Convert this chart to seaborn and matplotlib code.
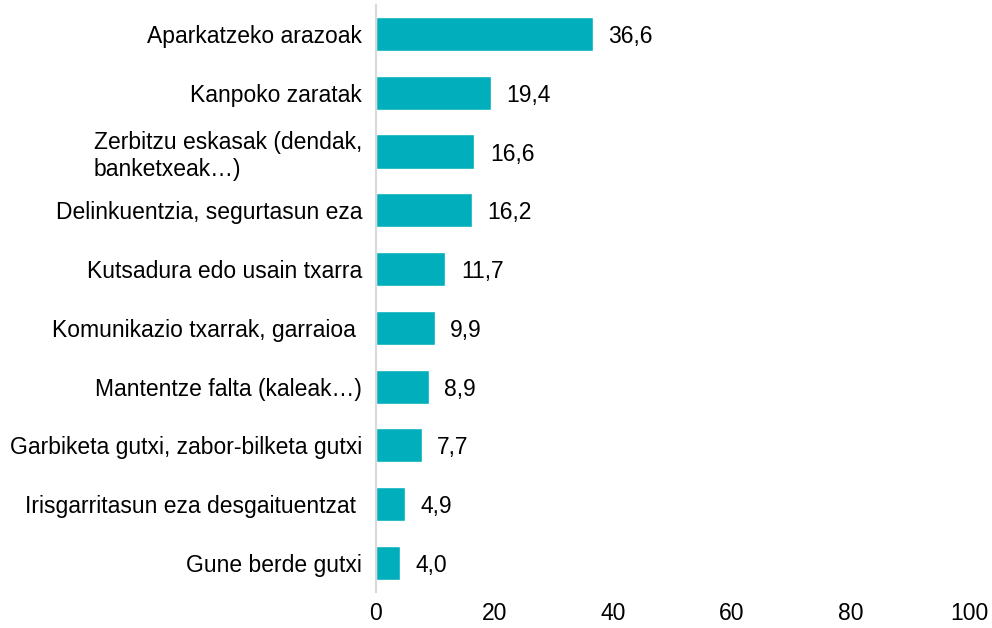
import matplotlib
matplotlib.use("Agg")
import matplotlib.pyplot as plt
import seaborn as sns
import pandas as pd

# data
categories = [
    "Aparkatzeko arazoak",
    "Kanpoko zaratak",
    "Zerbitzu eskasak (dendak,\nbanketxeak…)",
    "Delinkuentzia, segurtasun eza",
    "Kutsadura edo usain txarra",
    "Komunikazio txarrak, garraioa ",
    "Mantentze falta (kaleak…)",
    "Garbiketa gutxi, zabor-bilketa gutxi",
    "Irisgarritasun eza desgaituentzat ",
    "Gune berde gutxi",
]
values = [36.6, 19.4, 16.6, 16.2, 11.7, 9.9, 8.9, 7.7, 4.9, 4.0]
xticks = [0, 20, 40, 60, 80, 100]

df = pd.DataFrame({"cat": categories, "val": values})

sns.set_style("white")
plt.rcParams["font.family"] = ["Liberation Sans", "DejaVu Sans"]
plt.rcParams["text.color"] = "black"
plt.rcParams["xtick.color"] = "black"
plt.rcParams["ytick.color"] = "black"

FS = 16.5

fig = plt.figure(figsize=(9.92, 6.28), dpi=100)
ax = fig.add_axes([0.379, 0.0567, 0.598, 0.936])

sns.barplot(data=df, x="val", y="cat", color="#00AFBB", saturation=1,
            width=0.58, ax=ax)

for i, v in enumerate(values):
    ax.text(v + 2.6, i, f"{v:.1f}".replace(".", ","), va="center_baseline",
            ha="left", fontsize=FS, color="black")

ax.set_xlim(0, 100)
ax.set_ylim(9.5, -0.5)
ax.set_xticks(xticks)
ax.set_xticklabels([str(t) for t in xticks], fontsize=FS)
ax.tick_params(axis="x", length=0, pad=7)
ax.tick_params(axis="y", length=0, pad=10, labelsize=FS)
for lbl in ax.get_yticklabels():
    lbl.set_multialignment("left")
ax.set_xlabel("")
ax.set_ylabel("")

for s in ["top", "right", "bottom"]:
    ax.spines[s].set_visible(False)
ax.spines["left"].set_color("#D9D9D9")
ax.spines["left"].set_linewidth(1.5)

fig.savefig("out.png", dpi=100)
